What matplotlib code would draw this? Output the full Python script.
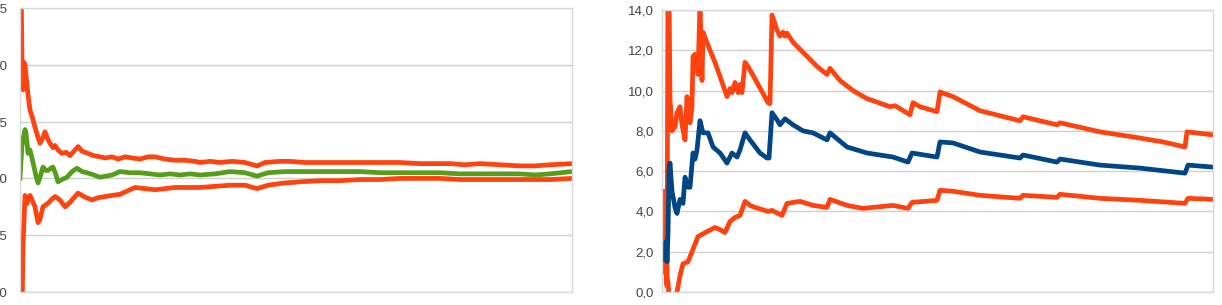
import matplotlib.pyplot as plt
from matplotlib.ticker import FuncFormatter

# left chart: ratio estimate with upper / lower bound (sample number, value)
left_upper_x = [0, 2, 3, 4, 5, 7, 8, 10, 12, 15, 18, 20, 23, 25, 28, 30, 33, 35, 38, 42,
                46, 50, 54, 58, 62, 68, 74, 80, 85, 92, 98, 105, 112, 120, 128, 135, 145,
                155, 165, 175, 180, 190, 200, 212, 225, 237, 245, 260, 270, 285, 300, 320,
                340, 360, 380, 400, 415, 430, 445, 460, 480, 500, 515, 530, 552]
left_upper = [1.25, 1.104, 1.078, 1.102, 1.100, 1.082, 1.074, 1.060, 1.055, 1.045, 1.036,
              1.031, 1.036, 1.041, 1.034, 1.031, 1.027, 1.029, 1.025, 1.022, 1.023, 1.020,
              1.024, 1.028, 1.024, 1.022, 1.020, 1.019, 1.018, 1.019, 1.017, 1.019, 1.018,
              1.017, 1.019, 1.019, 1.017, 1.016, 1.016, 1.015, 1.014, 1.015, 1.014, 1.015,
              1.014, 1.011, 1.014, 1.015, 1.015, 1.014, 1.014, 1.014, 1.014, 1.014, 1.014,
              1.013, 1.013, 1.013, 1.012, 1.013, 1.012, 1.011, 1.011, 1.012, 1.013]

left_mid_x = [0, 2, 5, 6, 8, 10, 12, 13, 16, 18, 20, 23, 26, 28, 31, 33, 36, 38, 42, 47,
              52, 57, 62, 67, 74, 80, 86, 92, 100, 110, 120, 130, 140, 150, 160, 170, 180,
              195, 210, 225, 237, 248, 265, 280, 300, 320, 340, 360, 380, 400, 420, 440,
              460, 480, 500, 515, 530, 552]
left_mid = [1.000, 1.030, 1.043, 1.040, 1.022, 1.025, 1.018, 1.014, 1.002, 0.996, 1.001,
            1.010, 1.007, 1.007, 1.009, 1.010, 1.003, 0.997, 0.999, 1.001, 1.006, 1.009,
            1.006, 1.005, 1.003, 1.001, 1.002, 1.003, 1.006, 1.005, 1.005, 1.004, 1.003,
            1.004, 1.003, 1.004, 1.003, 1.004, 1.006, 1.005, 1.002, 1.005, 1.006, 1.006,
            1.006, 1.006, 1.006, 1.005, 1.005, 1.005, 1.005, 1.004, 1.004, 1.004, 1.004,
            1.003, 1.004, 1.006]

left_lower_x = [0, 2, 3, 5, 7, 8, 10, 12, 13, 15, 18, 20, 23, 26, 28, 31, 35, 40, 45, 50,
                54, 58, 64, 72, 78, 85, 92, 100, 105, 115, 125, 135, 145, 155, 165, 180,
                195, 210, 225, 237, 248, 265, 280, 300, 320, 340, 360, 380, 400, 420, 440,
                460, 480, 500, 515, 530, 552]
left_lower = [0.80, 0.88, 0.94, 0.985, 0.978, 0.981, 0.985, 0.981, 0.979, 0.975, 0.961,
              0.964, 0.975, 0.977, 0.978, 0.981, 0.984, 0.981, 0.975, 0.979, 0.983, 0.987,
              0.984, 0.981, 0.983, 0.984, 0.985, 0.986, 0.988, 0.992, 0.991, 0.990, 0.991,
              0.992, 0.992, 0.992, 0.993, 0.994, 0.994, 0.991, 0.994, 0.996, 0.997, 0.998,
              0.998, 0.999, 0.999, 1.000, 1.000, 1.000, 0.999, 0.999, 0.999, 0.999, 0.999,
              0.999, 1.000]

# right chart: mean estimate with upper / lower bound
right_upper_x = [0, 1, 3, 4, 5, 6, 7, 8, 10, 13, 15, 18, 20, 23, 25, 27, 28, 30, 31, 33,
                 35, 36, 38, 40, 41, 44, 48, 53, 58, 65, 68, 70, 73, 76, 78, 80, 83, 86,
                 95, 106, 108, 110, 115, 118, 121, 123, 125, 131, 141, 155, 165, 168, 178,
                 191, 205, 228, 233, 248, 251, 258, 275, 278, 291, 318, 358, 361, 395, 398,
                 438, 471, 501, 523, 525, 551]
right_upper = [1.0, 5.0, 5.0, 1.0, 0.3, 16.0, 15.0, 9.6, 8.0, 8.2, 8.9, 9.2, 8.3, 7.55,
               9.7, 8.8, 8.4, 9.2, 11.7, 11.8, 11.7, 10.8, 14.3, 10.5, 12.9, 12.5, 12.0,
               11.4, 10.7, 9.7, 10.1, 9.9, 10.4, 9.9, 10.3, 9.9, 11.4, 11.2, 10.4, 9.4,
               9.35, 13.75, 13.0, 12.7, 12.9, 12.7, 12.85, 12.4, 11.9, 11.2, 10.8, 11.1,
               10.5, 10.0, 9.6, 9.2, 9.25, 8.8, 9.4, 9.2, 8.95, 9.93, 9.7, 9.0, 8.5, 8.7,
               8.3, 8.4, 7.95, 7.7, 7.45, 7.2, 7.95, 7.8]

right_mid_x = [3, 4, 5, 6, 7, 8, 10, 13, 15, 18, 21, 23, 26, 28, 31, 33, 35, 38, 41, 46,
               51, 58, 65, 70, 75, 78, 83, 88, 98, 105, 107, 110, 115, 118, 123, 131, 141,
               151, 165, 168, 185, 205, 231, 246, 250, 275, 278, 291, 318, 358, 361, 395,
               398, 438, 478, 523, 526, 551]
right_mid = [1.6, 2.5, 1.5, 2.9, 6.0, 6.4, 5.0, 4.2, 3.9, 4.6, 4.4, 5.7, 5.2, 5.2, 6.9,
             6.6, 7.05, 8.5, 7.9, 7.9, 7.2, 6.9, 6.4, 6.9, 6.7, 7.05, 7.9, 7.55, 6.9, 6.65,
             6.65, 8.9, 8.55, 8.3, 8.6, 8.3, 8.0, 7.9, 7.55, 7.9, 7.2, 6.9, 6.7, 6.45, 6.9,
             6.7, 7.45, 7.4, 6.95, 6.65, 6.8, 6.45, 6.6, 6.3, 6.15, 5.9, 6.3, 6.2]

right_lower_x = [0, 1, 3, 4, 6, 8, 14, 15, 18, 21, 26, 30, 36, 45, 53, 58, 63, 68, 73, 78,
                 83, 88, 93, 106, 110, 120, 125, 138, 151, 165, 168, 185, 201, 231, 246,
                 250, 275, 278, 291, 318, 358, 361, 395, 398, 438, 478, 523, 526, 551]
right_lower = [1.0, 5.0, 5.0, 0.9, 0.5, -1.0, -1.0, 0.0, 0.8, 1.4, 1.5, 2.0, 2.75, 3.0,
               3.2, 3.1, 2.95, 3.5, 3.7, 3.8, 4.5, 4.3, 4.2, 4.0, 4.05, 3.8, 4.4, 4.5, 4.3,
               4.2, 4.6, 4.3, 4.15, 4.3, 4.15, 4.45, 4.55, 5.05, 5.0, 4.8, 4.65, 4.8, 4.7,
               4.85, 4.65, 4.55, 4.4, 4.65, 4.6]

left_yticks = [0.90, 0.95, 1.00, 1.05, 1.10, 1.15]
right_yticks = [0, 2, 4, 6, 8, 10, 12, 14]

ORANGE = "#ff420e"
GREEN = "#579d1c"
BLUE = "#004586"
GRID = "#d0d0d0"

plt.rcParams["font.family"] = ["Liberation Sans", "DejaVu Sans"]

fig = plt.figure(figsize=(12.22, 3.05), dpi=100)
ax1 = fig.add_axes([20 / 1222, 1 - 292 / 305, 552 / 1222, 284 / 305])
ax2 = fig.add_axes([662 / 1222, 1 - 292 / 305, 551 / 1222, 282 / 305])

lw = 3.4
ax1.plot(left_upper_x, left_upper, color=ORANGE, lw=lw)
ax1.plot(left_lower_x, left_lower, color=ORANGE, lw=lw)
ax1.plot(left_mid_x, left_mid, color=GREEN, lw=lw)
ax1.set_xlim(0, 552)
ax1.set_ylim(0.90, 1.15)
ax1.set_yticks(left_yticks)
ax1.yaxis.set_major_formatter(FuncFormatter(lambda v, p: f"{v:.2f}".replace(".", ",")))
ax1.tick_params(axis="y", pad=9)

ax2.plot(right_upper_x, right_upper, color=ORANGE, lw=lw)
ax2.plot(right_lower_x, right_lower, color=ORANGE, lw=lw)
ax2.plot(right_mid_x, right_mid, color=BLUE, lw=lw)
ax2.set_xlim(0, 551)
ax2.set_ylim(0, 14)
ax2.set_yticks(right_yticks)
ax2.yaxis.set_major_formatter(FuncFormatter(lambda v, p: f"{v:.1f}".replace(".", ",")))
ax2.tick_params(axis="y", pad=6)

for ax in (ax1, ax2):
    ax.set_xticks([])
    ax.grid(axis="y", color=GRID, lw=1)
    ax.set_axisbelow(True)
    ax.tick_params(axis="y", length=0, labelsize=9.5, labelcolor="#444444")
    for side in ax.spines.values():
        side.set_color("#d8d8d8")
        side.set_linewidth(1)

fig.savefig("out.png", dpi=100)
